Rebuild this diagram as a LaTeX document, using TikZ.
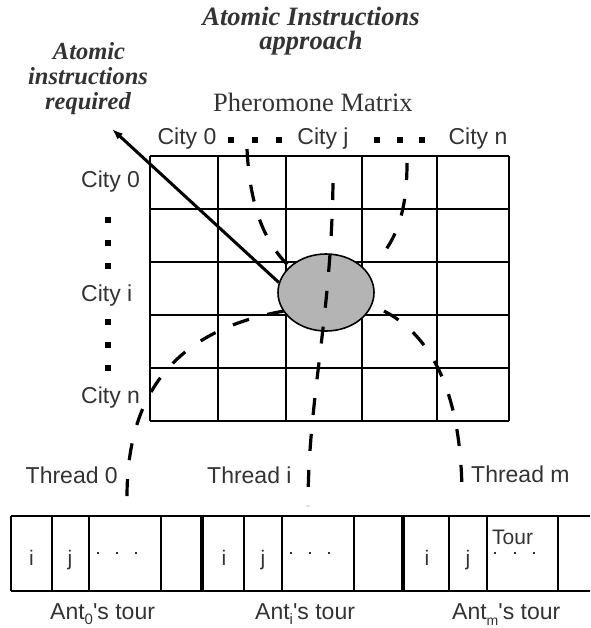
\documentclass[tikz,border=0pt]{standalone}
\usepackage{fontspec}
\setmainfont{Liberation Serif}
\newfontfamily\arialf{Liberation Sans}
\usetikzlibrary{arrows.meta,shapes.geometric}
\definecolor{txt}{HTML}{333333}
\definecolor{ellfill}{HTML}{B4B4B4}
\begin{document}
\begin{tikzpicture}[x=1pt,y=-1pt,
  sans/.style={font=\arialf\fontsize{23}{26}\selectfont, text=txt, inner sep=0pt},
  cell/.style={font=\arialf\fontsize{21}{24}\selectfont, text=txt, inner sep=0pt, anchor=base},
  serifbi/.style={font=\fontsize{26.5}{30}\selectfont\bfseries\itshape, text=txt, inner sep=0pt, anchor=base},
  serifbl/.style={font=\fontsize{24.5}{28}\selectfont\bfseries\itshape, text=txt, inner sep=0pt, anchor=base},
  gridline/.style={line width=1.8pt, black},
  thickline/.style={line width=4pt, black},
  dsh/.style={line width=3.2pt, black, dash pattern=on 17pt off 19pt},
  arr/.style={line width=3pt, black, -{Latex[length=11pt,width=8pt]}},
  sq/.style={fill=black, draw=none, minimum size=6pt, inner sep=0pt},
  tdot/.style={fill=txt, draw=none, minimum size=2.6pt, inner sep=0pt}]
\useasboundingbox (0,0) rectangle (590,628);

% titles
\node[serifbi] (t1) at (311,26) {Atomic Instructions};
\node[serifbi] (t2) at (311,50) {approach};
\node[serifbl] (l1) at (89,60) {Atomic};
\node[serifbl] (l2) at (88,85) {instructions};
\node[serifbl] (l3) at (88,110) {required};
\node[font=\fontsize{26.5}{30}\selectfont, text=txt, inner sep=0pt, anchor=base west] (pm) at (213,112) {Pheromone Matrix};

% column headers
\node[sans, anchor=base] (c0) at (187,145) {City 0};
\node[sans, anchor=base] (cj) at (323,145) {City j};
\node[sans, anchor=base] (cn) at (478,145) {City n};
\foreach \x [count=\k] in {231,255,279,377,400,422} \node[sq] (hd\k) at (\x,140) {};

% row headers
\node[sans, anchor=base west] (r0) at (81,188) {City 0};
\node[sans, anchor=base west] (ri) at (81,301) {City i};
\node[sans, anchor=base west] (rn) at (81,403) {City n};
\foreach \y [count=\k] in {220,243,266,322,345,368} \node[sq] (vd\k) at (108,\y) {};

% grid
\foreach \x in {150,218,286,362,437,509} \draw[gridline] (\x,156) -- (\x,421);
\foreach \y in {156,209,262,315,368,421} \draw[gridline] (150,\y) -- (509,\y);

% dashed curves (under ellipse)
\coordinate (a0) at (247,149);
\coordinate (a1) at (291,268);
\coordinate (c0s) at (407,163);
\coordinate (c1) at (378,260);
\coordinate (d0) at (284,311);
\coordinate (d1) at (127,497);
\coordinate (e0) at (384,311);
\coordinate (e1) at (462,497);
\coordinate (b0) at (333,183);
\coordinate (b1) at (308,506);
\draw[dsh] (a0) .. controls (250,210) and (266,245) .. (a1);
\draw[dsh] (c0s) .. controls (407,215) and (395,240) .. (c1);
\draw[dsh] (d0) .. controls (178,330) and (127,390) .. (d1);
\draw[dsh] (e0) .. controls (430,335) and (462,390) .. (e1);

% ellipse
\node[ellipse, draw=black, line width=1.6pt, fill=ellfill, minimum width=96pt, minimum height=77pt, inner sep=0pt] (ell) at (326,292.5) {};
\draw[dsh] (b0) .. controls (331,320) and (308,400) .. (b1);

% arrow
\coordinate (tip) at (112,129);
\draw[arr] (ell.168) -- (tip);

% thread labels
\node[sans, anchor=base east] (th0) at (118,483) {Thread 0};
\node[sans, anchor=base west] (thi) at (207,483) {Thread i};
\node[sans, anchor=base west] (thm) at (471,482) {Thread m};

% array of tours
\draw[gridline] (11,516) -- (590,516);
\draw[gridline] (11,591) -- (590,591);
\foreach \x in {11,52,89,161,244,282,354,449,487,558} \draw[gridline] (\x,516) -- (\x,591);
\draw[thickline] (202,516) -- (202,591);
\draw[thickline] (403,516) -- (403,591);

\node[cell] (i0) at (31.5,565) {i};
\node[cell] (j0) at (70,565) {j};
\node[cell] (i1) at (224,565) {i};
\node[cell] (j1) at (263,565) {j};
\node[cell] (i2) at (427,565) {i};
\node[cell] (j2) at (468,565) {j};
\foreach \x [count=\k] in {98,117,136,291,310,329,495,515,534} \node[tdot] (dd\k) at (\x,553) {};
\node[cell, anchor=base west] (tour) at (492,544) {Tour};

% ant labels
\node[sans, anchor=base west] (ant0) at (50,619) {Ant\raisebox{-5pt}{\fontsize{15}{15}\selectfont 0}\textquotesingle s tour};
\node[sans, anchor=base west] (anti) at (255,619) {Ant\raisebox{-5pt}{\fontsize{15}{15}\selectfont i}\textquotesingle s tour};
\node[sans, anchor=base west] (antm) at (452,619) {Ant\raisebox{-6pt}{\fontsize{14}{14}\selectfont m}\textquotesingle s tour};
\end{tikzpicture}
\end{document}
